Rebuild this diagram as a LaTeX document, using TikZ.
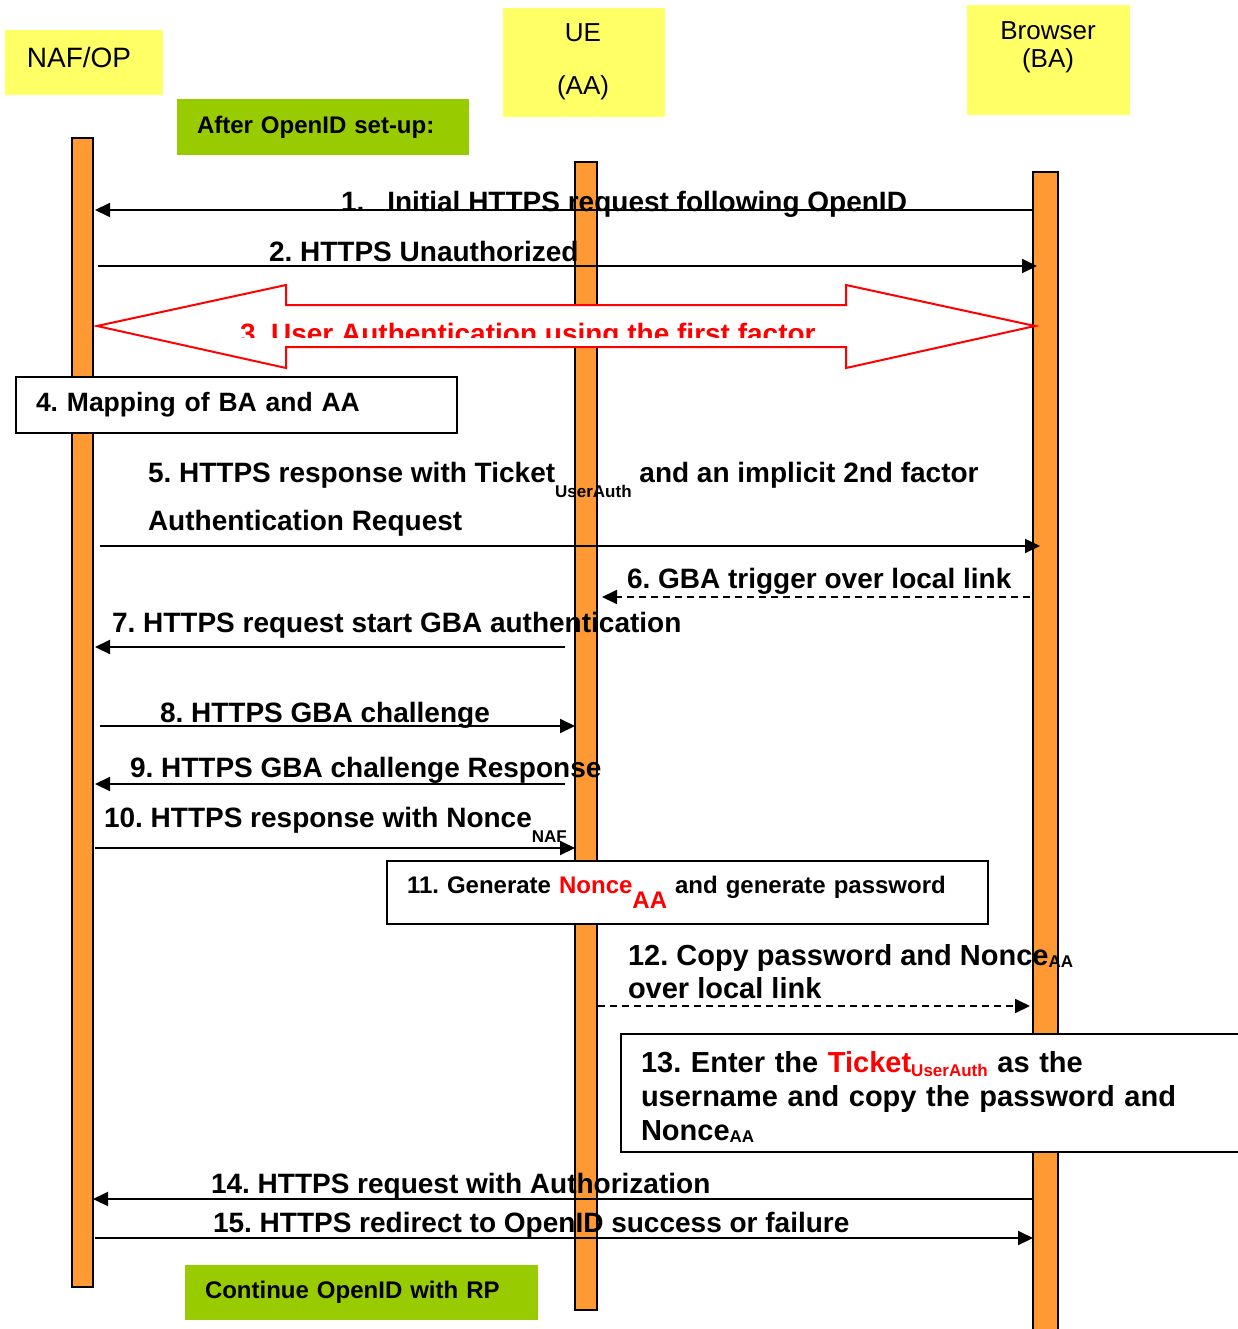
\documentclass[tikz,border=0pt]{standalone}
\usepackage{fontspec}
\setmainfont{Liberation Sans}
\usetikzlibrary{arrows.meta}
\definecolor{headyellow}{HTML}{FFFF66}
\definecolor{lifeorange}{HTML}{FF9933}
\definecolor{notegreen}{HTML}{99CC00}
\newcommand{\pxsize}[2]{\fontsize{#1}{#2}\selectfont}
\frenchspacing
\begin{document}
\begin{tikzpicture}[x=1pt,y=-1pt,
	every node/.style={inner sep=0pt,outer sep=0pt},
	headbox/.style={fill=headyellow,anchor=north west},
	headtext/.style={font=\pxsize{26}{30}},
	lifeline/.style={draw=black,fill=lifeorange,line width=1.5pt},
	greenbox/.style={fill=notegreen,anchor=north west,align=left,font=\bfseries\pxsize{24}{28}},
	notebox/.style={draw=black,fill=white,line width=2pt,anchor=north west,align=left},
	msg/.style={line width=2pt,-{Triangle[length=15pt,width=14pt]}},
	localmsg/.style={msg,dash pattern=on 7pt off 5pt},
	msglabel/.style={anchor=base west,font=\bfseries\pxsize{28}{34}}]
	\useasboundingbox (0,0) rectangle (1237,1329);
	% headers
	\node[headbox,minimum width=158pt,minimum height=65pt] (nafbox) at (5,30) {};
	\node[headtext,font=\pxsize{28}{32}] (naflabel) at (79,57) {NAF/OP};
	\node[headbox,minimum width=162pt,minimum height=109pt] (uebox) at (503,8) {};
	\node[headtext] (uelabel) at (583,33) {UE};
	\node[headtext] (uelabelb) at (583,88) {(AA)};
	\node[headbox,minimum width=163pt,minimum height=110pt] (babox) at (967,5) {};
	\node[headtext] (balabel) at (1048,31) {Browser};
	\node[headtext] (balabelb) at (1048,61) {(BA)};
	\node[greenbox,minimum width=292pt,minimum height=56pt,text width=252pt] (setup) at (177,99) {After OpenID set-up:};
	% lifelines
	\node[lifeline,minimum width=21pt,minimum height=1149pt] (naf) at (82.5,712.5) {};
	\node[lifeline,minimum width=22pt,minimum height=1148pt] (ue) at (586,736) {};
	\node[lifeline,minimum width=25pt,minimum height=1180pt] (ba) at (1045.5,762) {};
	% message rows
	\coordinate (r1) at (0,210);
	\coordinate (r2) at (0,266);
	\coordinate (r5) at (0,546);
	\coordinate (r6) at (0,597);
	\coordinate (r7) at (0,647);
	\coordinate (r8) at (0,726);
	\coordinate (r9) at (0,784);
	\coordinate (r10) at (0,848);
	\coordinate (r12) at (0,1006);
	\coordinate (r14) at (0,1199);
	\coordinate (r15) at (0,1238);
	% first factor
	\draw[red,line width=2pt,fill=white] (97,326) -- (286,285) -- (286,305) -- (846,305) -- (846,285) -- (1035,326)
		-- (846,368) -- (846,347) -- (286,347) -- (286,368) -- cycle;
	\begin{scope}
		\clip (97,305) rectangle (1035,337);
		\node[msglabel,text=red] (auth) at (240,343) {3. User Authentication using the first factor};
	\end{scope}
	% messages
	\draw[msg] (ba.west |- r1) -- ([xshift=2pt]naf.east |- r1);
	\node[msglabel] (l1) at (341,212) {1.\hspace{23pt}Initial HTTPS request following OpenID};
	\draw[msg] ([xshift=5pt]naf.east |- r2) -- ([xshift=4pt]ba.west |- r2);
	\node[msglabel] (l2) at (269,262) {2. HTTPS Unauthorized};
	\draw[msg] ([xshift=7pt]naf.east |- r5) -- ([xshift=7pt]ba.west |- r5);
	\node[msglabel] (l5a) at (148,482) {5. HTTPS response with Ticket\raisebox{-15pt}{\pxsize{17}{17}UserAuth} and an implicit 2nd factor};
	\node[msglabel] (l5b) at (148,530) {Authentication Request};
	\draw[localmsg] ([xshift=-3pt]ba.west |- r6) -- ([xshift=5pt]ue.east |- r6);
	\node[msglabel] (l6) at (627,588) {6. GBA trigger over local link};
	\draw[msg] ([xshift=-10pt]ue.west |- r7) -- ([xshift=2pt]naf.east |- r7);
	\node[msglabel] (l7) at (112,632) {7. HTTPS request start GBA authentication};
	\draw[msg] ([xshift=7pt]naf.east |- r8) -- (ue.west |- r8);
	\node[msglabel] (l8) at (160,722) {8. HTTPS GBA challenge};
	\draw[msg] ([xshift=-10pt]ue.west |- r9) -- ([xshift=2pt]naf.east |- r9);
	\node[msglabel] (l9) at (130,777) {9. HTTPS GBA challenge Response};
	\draw[msg] ([xshift=2pt]naf.east |- r10) -- (ue.west |- r10);
	\node[msglabel] (l10) at (104,827) {10. HTTPS response with Nonce\raisebox{-15pt}{\pxsize{17}{17}NAF}};
	\draw[localmsg] ([xshift=1pt]ue.east |- r12) -- ([xshift=-3pt]ba.west |- r12);
	\node[msglabel,font=\bfseries\pxsize{29}{34}] (l12a) at (628,965) {12. Copy password and Nonce\raisebox{-2pt}{\pxsize{17}{17}AA}};
	\node[msglabel,font=\bfseries\pxsize{29}{34}] (l12b) at (628,998) {over local link};
	\draw[msg] (ba.west |- r14) -- (naf.east |- r14);
	\node[msglabel] (l14) at (211,1193) {14. HTTPS request with Authorization};
	\draw[msg] ([xshift=2pt]naf.east |- r15) -- (ba.west |- r15);
	\node[msglabel] (l15) at (213,1232) {15. HTTPS redirect to OpenID success or failure};
	% notes
	\node[notebox,minimum width=441pt,minimum height=56pt,text width=401pt,font=\bfseries\pxsize{26.5}{32}] (mapping) at (16,377) {4. Mapping of BA and AA};
	\node[notebox,minimum width=601pt,minimum height=63pt,text width=561pt,font=\bfseries\pxsize{24}{28}] (gen) at (387,861)
		{11. Generate \textcolor{red}{Nonce\raisebox{-15pt}{AA}} and generate password};
	\node[notebox,minimum width=680pt,minimum height=118pt,text width=640pt,font=\bfseries\pxsize{29}{34}] (enter) at (621,1034)
		{\rule{0pt}{29pt}13. Enter the \textcolor{red}{Ticket\raisebox{-4pt}{\pxsize{17}{17}UserAuth}} as the\\username and copy the password and\\Nonce\raisebox{-2pt}{\pxsize{17}{17}AA}};
	\node[greenbox,minimum width=353pt,minimum height=55pt,text width=313pt] (cont) at (185,1265) {Continue OpenID with RP};
\end{tikzpicture}
\end{document}
